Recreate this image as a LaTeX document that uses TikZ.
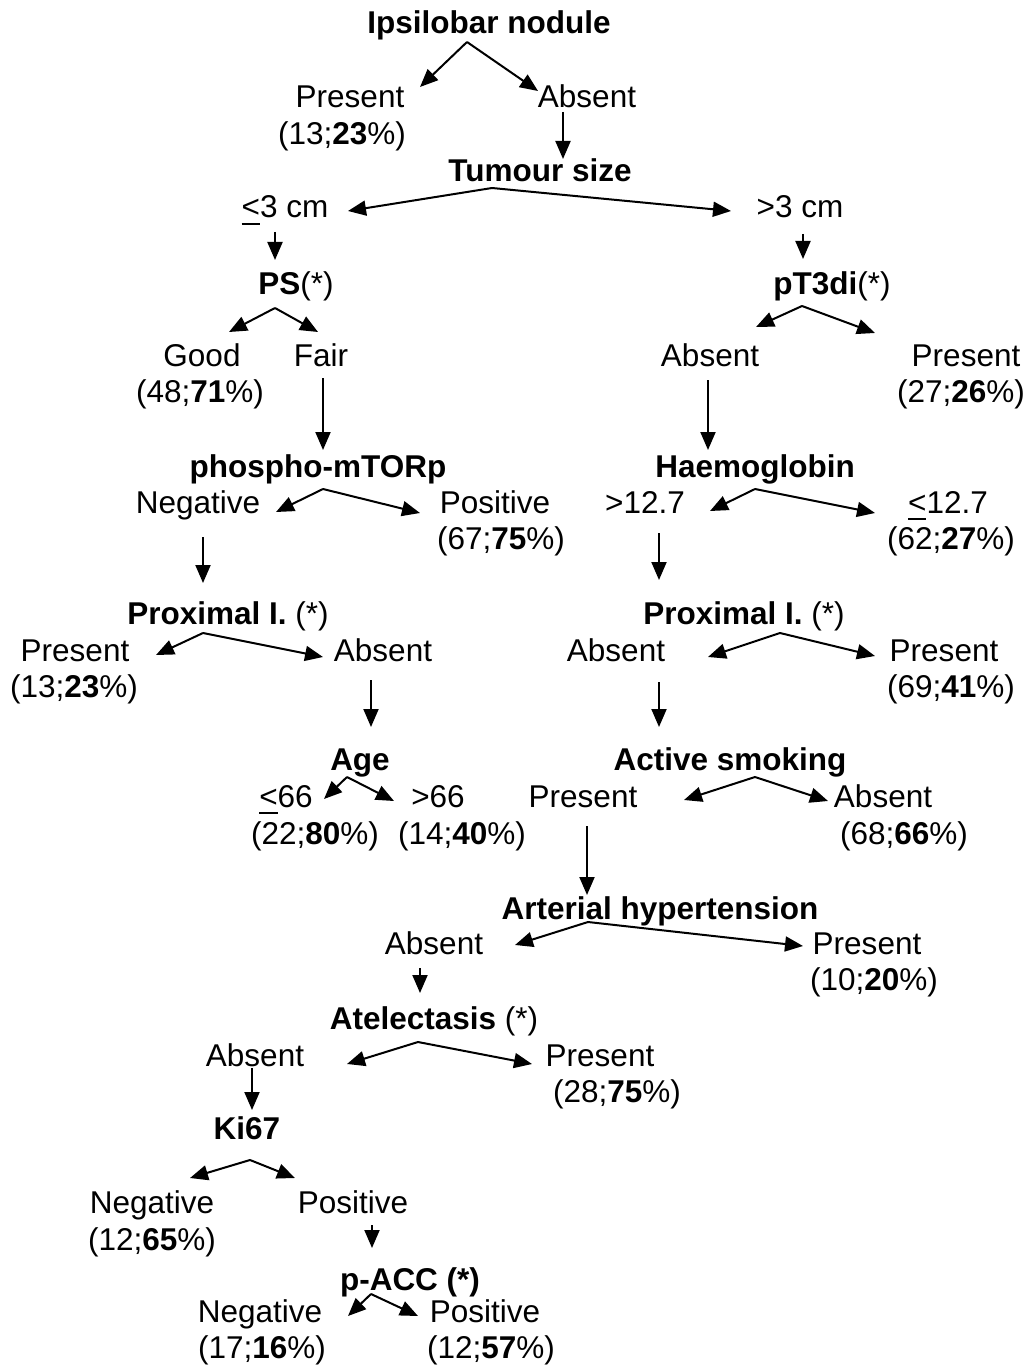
\documentclass[tikz,border=0pt]{standalone}
\usepackage{fontspec}
\setmainfont{Liberation Sans}
\usetikzlibrary{arrows.meta}
\newcommand\ulless{\rlap{\rule[-3.5pt]{0.58em}{1.1pt}}<}

\begin{document}
\begin{tikzpicture}[x=0.5pt,y=-0.5pt,
  lab/.style={inner sep=0pt,anchor=base,font=\fontsize{15.75}{18}\selectfont},
  arr/.style={-{Triangle[length=9pt,width=7.5pt]},line width=1pt}]
\newcommand\fork[1]{\draw[arr] (#1-o) -- (#1-l); \draw[arr] (#1-o) -- (#1-r);}
\newcommand\down[1]{\draw[arr] (#1-d) -- (#1-e);}
\useasboundingbox (0,0) rectangle (1030,1369);

% questions and answers
\node[lab] (ipsi) at (489,34) {\textbf{Ipsilobar nodule}};
\node[lab] (ipsiP) at (350,108) {Present};
\node[lab] (ipsiPn) at (342,145) {(13;\textbf{23}\%)};
\node[lab] (ipsiA) at (587,108) {Absent};
\node[lab] (tum) at (540,182) {\textbf{Tumour size}};
\node[lab] (le3) at (285,218) {\ulless3 cm};
\node[lab] (gt3) at (800,218) {>3 cm};
\node[lab] (ps) at (296,295) {\textbf{PS}(*)};
\node[lab] (pt3) at (832,295) {\textbf{pT3di}(*)};
\node[lab] (good) at (202,366) {Good};
\node[lab] (goodn) at (200,402) {(48;\textbf{71}\%)};
\node[lab] (fair) at (321,366) {Fair};
\node[lab] (pt3A) at (710,366) {Absent};
\node[lab] (pt3P) at (966,366) {Present};
\node[lab] (pt3Pn) at (961,402) {(27;\textbf{26}\%)};
\node[lab] (mtor) at (318,477) {\textbf{phospho-mTORp}};
\node[lab] (haem) at (755,477) {\textbf{Haemoglobin}};
\node[lab] (mtorN) at (198,513) {Negative};
\node[lab] (mtorP) at (495,513) {Positive};
\node[lab] (mtorPn) at (501,549) {(67;\textbf{75}\%)};
\node[lab] (haemG) at (645,513) {>12.7};
\node[lab] (haemL) at (948,513) {\ulless12.7};
\node[lab] (haemLn) at (951,549) {(62;\textbf{27}\%)};
\node[lab] (proxa) at (228,624) {\textbf{Proximal I.} (*)};
\node[lab] (proxb) at (744,624) {\textbf{Proximal I.} (*)};
\node[lab] (proxaP) at (75,661) {Present};
\node[lab] (proxaPn) at (74,697) {(13;\textbf{23}\%)};
\node[lab] (proxaA) at (383,661) {Absent};
\node[lab] (proxbA) at (616,661) {Absent};
\node[lab] (proxbP) at (944,661) {Present};
\node[lab] (proxbPn) at (951,697) {(69;\textbf{41}\%)};
\node[lab] (age) at (360,770) {\textbf{Age}};
\node[lab] (smok) at (730,770) {\textbf{Active smoking}};
\node[lab] (ageL) at (286,807) {\ulless66};
\node[lab] (ageLn) at (315,844) {(22;\textbf{80}\%)};
\node[lab] (ageG) at (438,807) {>66};
\node[lab] (ageGn) at (462,844) {(14;\textbf{40}\%)};
\node[lab] (smokP) at (583,807) {Present};
\node[lab] (smokA) at (883,807) {Absent};
\node[lab] (smokAn) at (904,844) {(68;\textbf{66}\%)};
\node[lab] (art) at (660,919) {\textbf{Arterial hypertension}};
\node[lab] (artA) at (434,954) {Absent};
\node[lab] (artP) at (867,954) {Present};
\node[lab] (artPn) at (874,990) {(10;\textbf{20}\%)};
\node[lab] (atel) at (434,1029) {\textbf{Atelectasis} (*)};
\node[lab] (atelA) at (255,1066) {Absent};
\node[lab] (atelP) at (600,1066) {Present};
\node[lab] (atelPn) at (617,1102) {(28;\textbf{75}\%)};
\node[lab] (ki) at (247,1139) {\textbf{Ki67}};
\node[lab] (kiN) at (152,1213) {Negative};
\node[lab] (kiNn) at (152,1250) {(12;\textbf{65}\%)};
\node[lab] (kiP) at (353,1213) {Positive};
\node[lab] (pacc) at (410,1290) {\textbf{p-ACC (*)}};
\node[lab] (paccN) at (260,1322) {Negative};
\node[lab] (paccNn) at (262,1358) {(17;\textbf{16}\%)};
\node[lab] (paccP) at (485,1322) {Positive};
\node[lab] (paccPn) at (491,1358) {(12;\textbf{57}\%)};

% forks: o = split point, l/r = arrow tips
\coordinate (ipsi-o) at (467,42);   \coordinate (ipsi-l) at (420,87);   \coordinate (ipsi-r) at (538,91);
\coordinate (tum-o) at (492,188);   \coordinate (tum-l) at (348,211);   \coordinate (tum-r) at (731,211);
\coordinate (ps-o) at (275,308);    \coordinate (ps-l) at (229,332);    \coordinate (ps-r) at (318,332);
\coordinate (pt3-o) at (802,306);   \coordinate (pt3-l) at (756,327);   \coordinate (pt3-r) at (875,333);
\coordinate (mtor-o) at (323,489);  \coordinate (mtor-l) at (276,512);  \coordinate (mtor-r) at (420,513);
\coordinate (haem-o) at (755,489);  \coordinate (haem-l) at (710,511);  \coordinate (haem-r) at (875,513);
\coordinate (proxa-o) at (203,633); \coordinate (proxa-l) at (156,655); \coordinate (proxa-r) at (323,657);
\coordinate (proxb-o) at (780,633); \coordinate (proxb-l) at (708,657); \coordinate (proxb-r) at (875,656);
\coordinate (age-o) at (347,777);   \coordinate (age-l) at (324,799);   \coordinate (age-r) at (394,801);
\coordinate (smok-o) at (755,777);  \coordinate (smok-l) at (684,800);  \coordinate (smok-r) at (828,801);
\coordinate (art-o) at (588,922);   \coordinate (art-l) at (515,945);   \coordinate (art-r) at (803,946);
\coordinate (atel-o) at (418,1042); \coordinate (atel-l) at (347,1064); \coordinate (atel-r) at (532,1064);
\coordinate (ki-o) at (250,1160);   \coordinate (ki-l) at (190,1178);   \coordinate (ki-r) at (295,1178);
\coordinate (pacc-o) at (371,1294); \coordinate (pacc-l) at (348,1316); \coordinate (pacc-r) at (418,1316);
\foreach \f in {ipsi,tum,ps,pt3,mtor,haem,proxa,proxb,age,smok,art,atel,ki,pacc}
  {\fork{\f}}

% straight links down to the next question
\coordinate (ipsiA-d) at (563,112);   \coordinate (ipsiA-e) at (563,159);
\coordinate (le3-d) at (275,232);     \coordinate (le3-e) at (275,260);
\coordinate (gt3-d) at (803,234);     \coordinate (gt3-e) at (803,259);
\coordinate (fair-d) at (323,378);    \coordinate (fair-e) at (323,450);
\coordinate (pt3A-d) at (708,380);    \coordinate (pt3A-e) at (708,450);
\coordinate (mtorN-d) at (203,537);   \coordinate (mtorN-e) at (203,583);
\coordinate (haemG-d) at (659,533);   \coordinate (haemG-e) at (659,580);
\coordinate (proxaA-d) at (371,680);  \coordinate (proxaA-e) at (371,727);
\coordinate (proxbA-d) at (659,682);  \coordinate (proxbA-e) at (659,727);
\coordinate (smokP-d) at (587,826);   \coordinate (smokP-e) at (587,895);
\coordinate (artA-d) at (420,968);    \coordinate (artA-e) at (420,993);
\coordinate (atelA-d) at (252,1068);  \coordinate (atelA-e) at (252,1110);
\coordinate (kiP-d) at (372,1225);    \coordinate (kiP-e) at (372,1248);
\foreach \f in {ipsiA,le3,gt3,fair,pt3A,mtorN,haemG,proxaA,proxbA,smokP,artA,atelA,kiP}
  {\down{\f}}
\end{tikzpicture}
\end{document}
